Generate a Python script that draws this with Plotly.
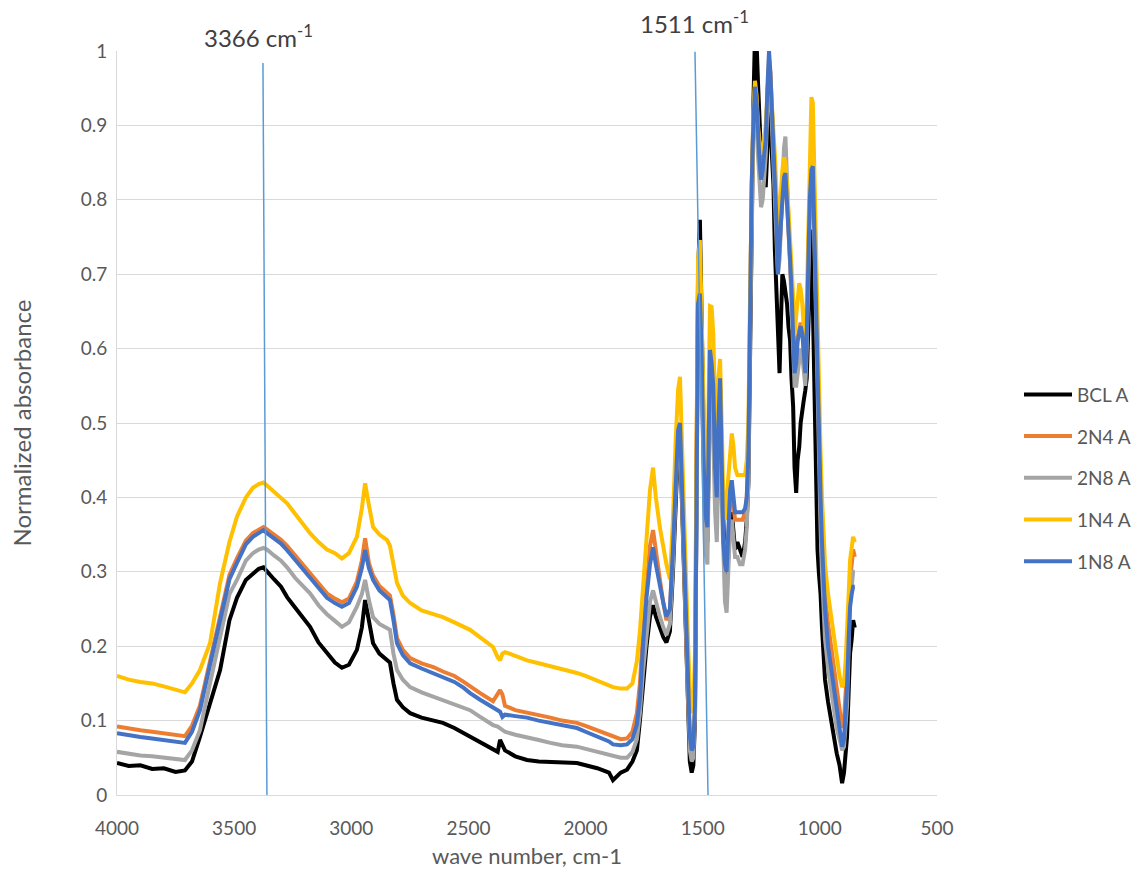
import plotly.graph_objects as go

# Wavenumber grid (cm-1), shared by every spectrum
WAVENUMBER = [
    4000, 3950, 3900, 3850, 3800, 3750, 3710,
    3680, 3646, 3603, 3560, 3520, 3488, 3450, 3420, 3395, 3375, 3360,
    3330, 3300, 3274, 3240, 3210, 3176, 3140, 3104, 3070, 3040, 3010, 2976,
    2955, 2941, 2925, 2907, 2880, 2848, 2835, 2820, 2805, 2780, 2749,
    2700, 2650, 2609, 2560, 2520, 2493, 2450, 2395, 2375, 2365, 2355, 2344,
    2300, 2250, 2200, 2150, 2100, 2037, 2000, 1950, 1900, 1883, 1850,
    1823, 1800, 1781, 1768, 1755, 1740, 1725, 1712, 1700, 1683, 1668, 1655,
    1640, 1627, 1615, 1605, 1597, 1588, 1576, 1563, 1555, 1547, 1540,
    1533, 1526, 1520, 1512, 1505, 1497, 1490, 1480, 1469, 1462, 1455, 1447,
    1440, 1433, 1426, 1419, 1412, 1405, 1398, 1390, 1383, 1376, 1369, 1362,
    1352, 1341, 1330, 1319, 1312, 1305,
    1298, 1291, 1284, 1277, 1270, 1264, 1257, 1251, 1244, 1238, 1231, 1224,
    1217, 1211, 1205, 1198, 1192, 1185, 1179, 1172, 1166, 1160, 1153, 1147,
    1140, 1134, 1127, 1121, 1114, 1108, 1101, 1095, 1088, 1082, 1075, 1069,
    1062, 1056, 1049, 1043, 1036, 1030, 1023, 1017, 1010, 1004,
    997, 991, 984, 978, 965, 952, 940, 928, 916, 905, 897, 890, 884, 877,
    871, 864, 858, 851,
]

BCL_A = [
    0.043, 0.039, 0.040, 0.035, 0.036, 0.031, 0.033,
    0.045, 0.078, 0.125, 0.168, 0.235, 0.265, 0.289, 0.298, 0.304, 0.306, 0.300,
    0.290, 0.280, 0.266, 0.252, 0.240, 0.226, 0.205, 0.190, 0.178, 0.171, 0.175, 0.195,
    0.225, 0.262, 0.232, 0.204, 0.190, 0.182, 0.178, 0.150, 0.128, 0.118, 0.110,
    0.104, 0.100, 0.097, 0.090, 0.083, 0.078, 0.070, 0.060, 0.058, 0.074, 0.066, 0.060,
    0.052, 0.047, 0.045, 0.044, 0.044, 0.043, 0.040, 0.036, 0.030, 0.020, 0.030,
    0.034, 0.045, 0.060, 0.100, 0.150, 0.200, 0.240, 0.255, 0.240, 0.225, 0.212, 0.205,
    0.220, 0.300, 0.400, 0.470, 0.480, 0.380, 0.250, 0.100, 0.045, 0.030, 0.040,
    0.10, 0.45, 0.70, 0.773, 0.62, 0.48, 0.38, 0.34, 0.56, 0.54, 0.52, 0.44,
    0.40, 0.48, 0.55, 0.44, 0.34, 0.30, 0.28, 0.32, 0.37, 0.38, 0.35, 0.33,
    0.34, 0.33, 0.32, 0.34, 0.37, 0.42,
    0.60, 0.80, 0.925, 1.02, 1.01, 0.957, 0.88, 0.86, 0.84, 0.83, 0.817, 0.87,
    0.925, 0.90, 0.85, 0.82, 0.733, 0.66, 0.621, 0.567, 0.64, 0.70, 0.69, 0.674,
    0.66, 0.63, 0.611, 0.56, 0.522, 0.44, 0.406, 0.45, 0.468, 0.50, 0.52, 0.53,
    0.544, 0.56, 0.63, 0.70, 0.76, 0.66, 0.55, 0.42, 0.33, 0.298,
    0.27, 0.226, 0.19, 0.155, 0.125, 0.10, 0.08, 0.056, 0.04, 0.016, 0.03, 0.06, 0.078, 0.14,
    0.19, 0.21, 0.235, 0.225,
]

N2_4_A = [
    0.092, 0.089, 0.087, 0.085, 0.083, 0.080, 0.079,
    0.093, 0.120, 0.180, 0.240, 0.296, 0.318, 0.342, 0.352, 0.357, 0.360, 0.357,
    0.350, 0.343, 0.335, 0.322, 0.311, 0.299, 0.284, 0.271, 0.264, 0.259, 0.264, 0.287,
    0.315, 0.345, 0.312, 0.295, 0.281, 0.271, 0.268, 0.242, 0.211, 0.195, 0.184,
    0.177, 0.172, 0.166, 0.160, 0.152, 0.146, 0.137, 0.126, 0.135, 0.141, 0.135, 0.120,
    0.114, 0.111, 0.107, 0.104, 0.100, 0.097, 0.093, 0.087, 0.080, 0.078, 0.075,
    0.076, 0.085, 0.110, 0.150, 0.220, 0.285, 0.335, 0.356, 0.325, 0.290, 0.258, 0.235,
    0.245, 0.330, 0.430, 0.490, 0.500, 0.400, 0.270, 0.130, 0.085, 0.070, 0.070,
    0.12, 0.48, 0.66, 0.68, 0.60, 0.46, 0.38, 0.36, 0.60, 0.58, 0.55, 0.45,
    0.40, 0.50, 0.56, 0.45, 0.35, 0.32, 0.31, 0.35, 0.40, 0.41, 0.39, 0.37,
    0.37, 0.37, 0.37, 0.38, 0.40, 0.46,
    0.65, 0.82, 0.90, 0.95, 0.93, 0.88, 0.85, 0.83, 0.845, 0.865, 0.885, 0.95,
    0.99, 0.97, 0.925, 0.88, 0.84, 0.78, 0.71, 0.73, 0.77, 0.80, 0.83, 0.84,
    0.80, 0.77, 0.72, 0.68, 0.635, 0.575, 0.59, 0.615, 0.625, 0.635, 0.625, 0.595,
    0.575, 0.63, 0.75, 0.81, 0.85, 0.855, 0.76, 0.67, 0.56, 0.48,
    0.42, 0.36, 0.31, 0.27, 0.23, 0.20, 0.17, 0.14, 0.11, 0.09, 0.10, 0.13, 0.17, 0.24,
    0.29, 0.31, 0.33, 0.32,
]

N2_8_A = [
    0.058, 0.055, 0.053, 0.052, 0.050, 0.048, 0.047,
    0.060, 0.087, 0.150, 0.212, 0.270, 0.289, 0.315, 0.325, 0.330, 0.332, 0.330,
    0.322, 0.315, 0.306, 0.292, 0.282, 0.271, 0.255, 0.243, 0.234, 0.226, 0.232, 0.253,
    0.270, 0.289, 0.262, 0.239, 0.230, 0.225, 0.222, 0.190, 0.168, 0.155, 0.145,
    0.138, 0.132, 0.128, 0.122, 0.117, 0.114, 0.105, 0.094, 0.092, 0.090, 0.088, 0.085,
    0.081, 0.078, 0.074, 0.070, 0.067, 0.065, 0.062, 0.058, 0.055, 0.053, 0.050,
    0.050, 0.058, 0.075, 0.110, 0.165, 0.220, 0.260, 0.275, 0.258, 0.240, 0.225, 0.215,
    0.230, 0.310, 0.410, 0.480, 0.490, 0.390, 0.260, 0.110, 0.060, 0.045, 0.050,
    0.11, 0.44, 0.64, 0.70, 0.58, 0.42, 0.33, 0.31, 0.54, 0.52, 0.48, 0.38,
    0.34, 0.44, 0.52, 0.40, 0.30, 0.26, 0.245, 0.30, 0.36, 0.37, 0.34, 0.32,
    0.32, 0.31, 0.31, 0.33, 0.36, 0.42,
    0.62, 0.80, 0.88, 0.94, 0.92, 0.86, 0.82, 0.79, 0.80, 0.83, 0.86, 0.92,
    0.97, 0.95, 0.90, 0.86, 0.82, 0.76, 0.70, 0.72, 0.78, 0.83, 0.87, 0.885,
    0.83, 0.78, 0.72, 0.66, 0.60, 0.55, 0.55, 0.57, 0.58, 0.60, 0.59, 0.57,
    0.55, 0.60, 0.72, 0.78, 0.82, 0.83, 0.74, 0.64, 0.53, 0.45,
    0.36, 0.30, 0.25, 0.21, 0.17, 0.14, 0.115, 0.09, 0.075, 0.06, 0.065, 0.09, 0.12, 0.20,
    0.26, 0.28, 0.30, 0.30,
]

N1_4_A = [
    0.160, 0.155, 0.152, 0.150, 0.146, 0.142, 0.138,
    0.150, 0.168, 0.204, 0.285, 0.340, 0.374, 0.400, 0.413, 0.418, 0.420, 0.416,
    0.408, 0.400, 0.392, 0.378, 0.365, 0.352, 0.340, 0.330, 0.325, 0.318, 0.325, 0.347,
    0.385, 0.419, 0.390, 0.360, 0.350, 0.343, 0.335, 0.310, 0.285, 0.268, 0.258,
    0.248, 0.243, 0.239, 0.232, 0.226, 0.222, 0.212, 0.199, 0.185, 0.181, 0.190, 0.192,
    0.187, 0.181, 0.177, 0.173, 0.170, 0.164, 0.160, 0.153, 0.147, 0.145, 0.143,
    0.143, 0.150, 0.180, 0.220, 0.280, 0.350, 0.410, 0.440, 0.400, 0.360, 0.330, 0.310,
    0.290, 0.370, 0.480, 0.545, 0.562, 0.450, 0.340, 0.210, 0.140, 0.110, 0.120,
    0.19, 0.55, 0.72, 0.746, 0.66, 0.52, 0.44, 0.42, 0.657, 0.656, 0.62, 0.52,
    0.47, 0.56, 0.586, 0.50, 0.40, 0.37, 0.40, 0.44, 0.47, 0.486, 0.47, 0.44,
    0.43, 0.43, 0.43, 0.43, 0.45, 0.50,
    0.67, 0.84, 0.92, 0.96, 0.94, 0.90, 0.87, 0.86, 0.87, 0.88, 0.90, 0.95,
    0.98, 0.96, 0.93, 0.90, 0.86, 0.81, 0.76, 0.78, 0.82, 0.84, 0.857, 0.85,
    0.82, 0.79, 0.75, 0.71, 0.67, 0.62, 0.64, 0.66, 0.688, 0.68, 0.66, 0.63,
    0.61, 0.66, 0.78, 0.86, 0.938, 0.93, 0.82, 0.72, 0.62, 0.52,
    0.46, 0.40, 0.347, 0.31, 0.27, 0.24, 0.21, 0.185, 0.16, 0.145, 0.15, 0.18, 0.212, 0.27,
    0.316, 0.33, 0.347, 0.34,
]

N1_8_A = [
    0.083, 0.080, 0.078, 0.076, 0.074, 0.071, 0.070,
    0.085, 0.114, 0.175, 0.235, 0.290, 0.312, 0.337, 0.347, 0.352, 0.356, 0.352,
    0.345, 0.338, 0.329, 0.316, 0.305, 0.293, 0.278, 0.265, 0.258, 0.253, 0.258, 0.280,
    0.305, 0.329, 0.305, 0.289, 0.275, 0.265, 0.262, 0.235, 0.204, 0.188, 0.177,
    0.170, 0.164, 0.159, 0.152, 0.144, 0.137, 0.128, 0.118, 0.115, 0.112, 0.105, 0.108,
    0.106, 0.104, 0.100, 0.097, 0.093, 0.090, 0.085, 0.078, 0.072, 0.068, 0.067,
    0.068, 0.075, 0.095, 0.130, 0.200, 0.265, 0.310, 0.333, 0.310, 0.280, 0.258, 0.240,
    0.250, 0.330, 0.430, 0.490, 0.500, 0.400, 0.270, 0.130, 0.080, 0.060, 0.065,
    0.12, 0.48, 0.66, 0.674, 0.60, 0.46, 0.38, 0.36, 0.598, 0.58, 0.55, 0.44,
    0.40, 0.50, 0.56, 0.45, 0.34, 0.31, 0.30, 0.36, 0.41, 0.423, 0.40, 0.38,
    0.38, 0.38, 0.38, 0.385, 0.40, 0.46,
    0.65, 0.82, 0.90, 0.952, 0.93, 0.88, 0.85, 0.827, 0.84, 0.86, 0.88, 0.95,
    1.00, 0.97, 0.925, 0.88, 0.836, 0.77, 0.70, 0.73, 0.77, 0.80, 0.83, 0.836,
    0.80, 0.77, 0.72, 0.679, 0.63, 0.567, 0.58, 0.61, 0.62, 0.63, 0.62, 0.59,
    0.567, 0.62, 0.746, 0.80, 0.84, 0.845, 0.75, 0.66, 0.55, 0.47,
    0.40, 0.34, 0.29, 0.25, 0.20, 0.17, 0.14, 0.11, 0.085, 0.065, 0.075, 0.11, 0.145, 0.21,
    0.253, 0.27, 0.28, 0.28,
]

SERIES_NAMES = ["BCL A", "2N4 A", "2N8 A", "1N4 A", "1N8 A"]
SERIES_VALUES = [BCL_A, N2_4_A, N2_8_A, N1_4_A, N1_8_A]
SERIES_COLORS = ["#000000", "#ED7D31", "#A5A5A5", "#FFC000", "#4472C4"]

# Marked band positions (cm-1) and the lean of each guide line
PEAK_BANDS = [3366, 1511]
GUIDE_TILT = [(11, -6), (22, -34)]
GUIDE_SPAN = [(0.984, -0.003), (0.999, -0.007)]

for vals in SERIES_VALUES:
    assert len(vals) == len(WAVENUMBER), len(vals)

TEXT = "#595959"
GRID = "#D9D9D9"
FONT = "Lato"

fig = go.Figure()
for name, vals, color in zip(SERIES_NAMES, SERIES_VALUES, SERIES_COLORS):
    fig.add_trace(go.Scatter(
        x=WAVENUMBER, y=vals, mode="lines", name=name, legendgroup=name,
        line=dict(color=color, width=4),
    ))

# thin guide lines through the marked bands
for band, (t0, t1), (y0, y1) in zip(PEAK_BANDS, GUIDE_TILT, GUIDE_SPAN):
    fig.add_shape(type="line", xref="x", yref="y",
                  x0=band + t0, x1=band + t1, y0=y0, y1=y1,
                  line=dict(color="#5B9BD5", width=1.5), layer="above")

# white text box behind the first band label
fig.add_shape(type="rect", xref="paper", yref="paper",
              x0=0.077, x1=0.33, y0=0.992, y1=1.05,
              fillcolor="white", line=dict(width=0), layer="above")

label_pos = [(3394, 1.0195), (1536, 1.0395)]
for band, (lx, ly) in zip(PEAK_BANDS, label_pos):
    fig.add_annotation(x=lx, y=ly, xref="x", yref="paper",
                       text=f"{band} cm<sup>-1</sup>", showarrow=False,
                       font=dict(family=FONT, size=24, color="#404040"),
                       xanchor="center", yanchor="middle")

fig.update_layout(
    width=1140, height=877,
    margin=dict(l=117, r=203, t=51, b=82, autoexpand=False),
    plot_bgcolor="white", paper_bgcolor="white",
    font=dict(family=FONT, size=19, color=TEXT),
    showlegend=True,
    legend=dict(x=1.1, y=0.426, xanchor="left", yanchor="middle",
                tracegroupgap=14, itemwidth=48,
                font=dict(family=FONT, size=19, color=TEXT),
                bgcolor="rgba(0,0,0,0)"),
    xaxis=dict(range=[4000, 500], tick0=500, dtick=500, showgrid=False,
               zeroline=False, showline=True, linecolor=GRID, linewidth=1,
               ticks="", ticklabelstandoff=16, automargin=False,
               tickfont=dict(family=FONT, size=19, color=TEXT),
               title=dict(text="wave number, cm-1", standoff=10,
                          font=dict(family=FONT, size=22, color=TEXT))),
    yaxis=dict(range=[0, 1], tick0=0, dtick=0.1, showgrid=True, gridcolor=GRID,
               gridwidth=1, zeroline=False, showline=True, linecolor=GRID,
               linewidth=1, ticks="", ticklabelstandoff=5, automargin=False,
               tickfont=dict(family=FONT, size=19, color=TEXT),
               title=dict(text="Normalized absorbance", standoff=42,
                          font=dict(family=FONT, size=24, color=TEXT))),
)

fig.write_html("out.html")
